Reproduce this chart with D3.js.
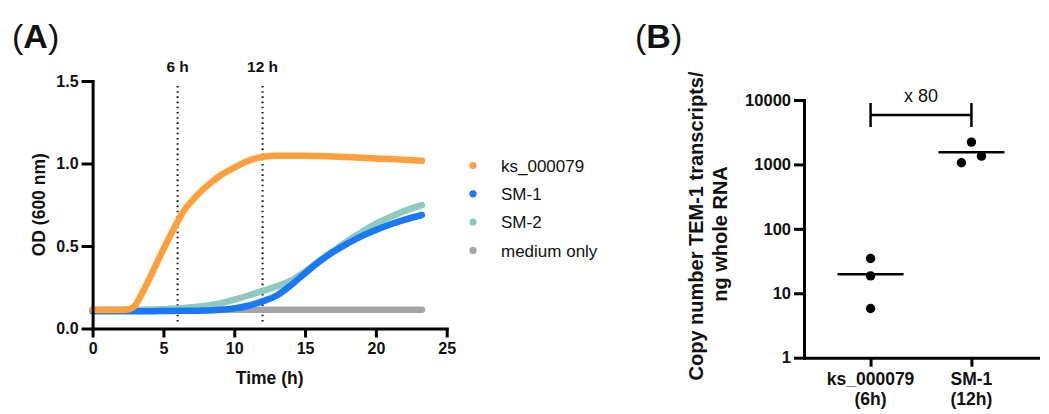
<!DOCTYPE html>
<html>
<head>
<meta charset="utf-8">
<script src="https://cdn.jsdelivr.net/npm/d3@7"></script>
<style>
    body { margin: 0; background: #fff; }
    text { font-family: "Liberation Sans", Arial, Helvetica, sans-serif; fill: #111; }
</style>
</head>
<body>
<div id="chart"></div>
<script>
// ---------- panel A : growth curves ----------
const times = [0, 1, 2, 2.5, 3, 3.5, 4, 4.5, 5, 5.5, 6, 6.5, 7, 7.5, 8, 8.5, 9, 10, 11, 12,
    13, 14, 15, 16, 17, 18, 19, 20, 21, 22, 23.25];
const odKs000079 = [0.112, 0.112, 0.112, 0.115, 0.14, 0.215, 0.30, 0.39, 0.48, 0.565, 0.648, 0.72,
    0.772, 0.818, 0.858, 0.894, 0.926, 0.975, 1.017, 1.04, 1.047, 1.047, 1.047, 1.045, 1.043, 1.04,
    1.035, 1.03, 1.027, 1.023, 1.017];
const odSM1 = [0.105, 0.105, 0.105, 0.105, 0.105, 0.105, 0.105, 0.105, 0.106, 0.106, 0.107, 0.107,
    0.108, 0.108, 0.109, 0.11, 0.113, 0.122, 0.138, 0.165, 0.2, 0.262, 0.335, 0.405, 0.465, 0.515,
    0.56, 0.597, 0.63, 0.658, 0.688];
const odSM2 = [0.11, 0.11, 0.11, 0.11, 0.11, 0.111, 0.112, 0.114, 0.116, 0.119, 0.122, 0.125,
    0.129, 0.133, 0.138, 0.145, 0.152, 0.175, 0.2, 0.228, 0.255, 0.29, 0.345, 0.41, 0.47, 0.53,
    0.585, 0.635, 0.675, 0.712, 0.748];
const odMedium = [0.113, 0.113, 0.113, 0.113, 0.113, 0.113, 0.113, 0.113, 0.113, 0.113, 0.113, 0.113,
    0.113, 0.113, 0.113, 0.113, 0.113, 0.113, 0.113, 0.113, 0.113, 0.113, 0.113, 0.113, 0.113, 0.113,
    0.113, 0.113, 0.113, 0.113, 0.113];
const seriesNames = ["ks_000079", "SM-1", "SM-2", "medium only"];
const seriesColors = ["#ffa03c", "#1878f6", "#8ecabd", "#a6a3a9"];
const sampleTimes = [6, 12];
const timeTicks = [0, 5, 10, 15, 20, 25];
const odTicks = [0, 0.5, 1.0, 1.5];

// ---------- panel B : TEM-1 transcripts ----------
const strains = ["ks_000079", "SM-1"];
const strainTimes = ["(6h)", "(12h)"];
const copyNumbers = [[34.6, 18.6, 5.8], [1062, 2220, 1345]];
const copyTicks = [1, 10, 100, 1000, 10000];
const foldLabel = "x 80";
const yTitleB = ["Copy number TEM-1 transcripts/", "ng whole RNA"];

const W = 1049, H = 414;

let svg = d3.select("#chart").append("svg")
    .attr("width", W)
    .attr("height", H);

//thick black axes like the prism style
function styleAxis(g, fontSize) {
    g.select(".domain").attr("stroke", "#000").attr("stroke-width", 3)
        .attr("stroke-linecap", "square");
    g.selectAll(".tick line").attr("stroke", "#000").attr("stroke-width", 3);
    g.selectAll(".tick text")
        .style("font-size", fontSize + "px")
        .style("font-weight", "bold")
        .attr("fill", "#111");
}

function panelLabel(x, y, letter) {
    let t = svg.append("text")
        .attr("x", x)
        .attr("y", y)
        .style("font-size", "34px");
    t.append("tspan").text("(");
    t.append("tspan").text(letter).style("font-weight", "bold");
    t.append("tspan").text(")");
}

//////////////// panel A ////////////////
let xA = d3.scaleLinear().domain([0, 25]).range([92.6, 446.7]);
let yA = d3.scaleLinear().domain([0, 1.5]).range([328.5, 81]);

panelLabel(12, 48, "A");

//sampling time marks
svg.selectAll(".sampleLine")
    .data(sampleTimes)
    .enter()
    .append("line")
    .attr("class", "sampleLine")
    .attr("x1", d => xA(d))
    .attr("x2", d => xA(d))
    .attr("y1", yA(1.47))
    .attr("y2", yA(0) - 6)
    .attr("stroke", "#111")
    .attr("stroke-width", 2)
    .attr("stroke-dasharray", "1.6,3.6");

svg.selectAll(".sampleLabel")
    .data(sampleTimes)
    .enter()
    .append("text")
    .attr("class", "sampleLabel")
    .attr("x", d => xA(d))
    .attr("y", 72)
    .attr("text-anchor", "middle")
    .style("font-size", "15.5px")
    .style("font-weight", "bold")
    .text(d => d + " h");

//curves, drawn bottom to top
let seriesData = [odKs000079, odSM1, odSM2, odMedium];
let line = d3.line()
    .x((d, i) => xA(times[i]))
    .y(d => yA(d))
    .curve(d3.curveMonotoneX);

[3, 2, 1, 0].forEach(k => {
    svg.append("path")
        .datum(seriesData[k])
        .attr("d", line)
        .attr("fill", "none")
        .attr("stroke", seriesColors[k])
        .attr("stroke-width", 6.5)
        .attr("stroke-linecap", "round")
        .attr("stroke-linejoin", "round");
});

let axA_x = svg.append("g")
    .attr("transform", "translate(0," + yA(0) + ")")
    .call(d3.axisBottom(xA).tickValues(timeTicks).tickSize(9).tickSizeOuter(0).tickPadding(5));
styleAxis(axA_x, 16);

let axA_y = svg.append("g")
    .attr("transform", "translate(" + xA(0) + ",0)")
    .call(d3.axisLeft(yA).tickValues(odTicks).tickFormat(d3.format(".1f")).tickSize(11)
        .tickSizeOuter(0).tickPadding(3));
styleAxis(axA_y, 16);

svg.append("text")
    .attr("x", (xA(0) + xA(25)) / 2)
    .attr("y", 384)
    .attr("text-anchor", "middle")
    .style("font-size", "17.5px")
    .style("font-weight", "bold")
    .text("Time (h)");

svg.append("text")
    .attr("transform", "translate(45," + (yA(0) + yA(1.5)) / 2 + ") rotate(-90)")
    .attr("text-anchor", "middle")
    .style("font-size", "17.5px")
    .style("font-weight", "bold")
    .text("OD (600 nm)");

//legend
let legend = svg.selectAll(".legendRow")
    .data(seriesNames)
    .enter()
    .append("g")
    .attr("class", "legendRow")
    .attr("transform", (d, i) => "translate(473," + (165.5 + i * 28.3) + ")");

legend.append("circle")
    .attr("r", 3.6)
    .attr("fill", (d, i) => seriesColors[i]);

legend.append("text")
    .attr("x", 28)
    .attr("dy", "0.36em")
    .style("font-size", "17px")
    .text(d => d);

//////////////// panel B ////////////////
let xB = d3.scalePoint().domain(strains).range([804, 1038]).padding(0.66);
let yB = d3.scaleLog().domain([1, 10000]).range([357.7, 100]);

panelLabel(635, 48, "B");

let axB_y = svg.append("g")
    .attr("transform", "translate(804,0)")
    .call(d3.axisLeft(yB).tickValues(copyTicks).tickFormat(d3.format("d")).tickSize(10)
        .tickSizeOuter(0).tickPadding(3));
styleAxis(axB_y, 16.5);

let axB_x = svg.append("g")
    .attr("transform", "translate(0," + yB(1) + ")")
    .call(d3.axisBottom(xB).tickSize(9).tickSizeOuter(0));
styleAxis(axB_x, 17);
axB_x.selectAll(".tick text").remove();

//two-line category labels
let catLabels = svg.selectAll(".catLabel")
    .data(strains)
    .enter()
    .append("text")
    .attr("class", "catLabel")
    .attr("text-anchor", "middle")
    .style("font-size", "17.5px")
    .style("font-weight", "bold");
catLabels.append("tspan")
    .attr("x", d => xB(d))
    .attr("y", 385)
    .text(d => d);
catLabels.append("tspan")
    .attr("x", d => xB(d))
    .attr("y", 405)
    .text((d, i) => strainTimes[i]);

//y title, two rotated lines
svg.selectAll(".yTitleB")
    .data(yTitleB)
    .enter()
    .append("text")
    .attr("class", "yTitleB")
    .attr("transform", (d, i) => "translate(" + (703 + i * 24) + "," + (226 + i * 8) + ") rotate(-90)")
    .attr("text-anchor", "middle")
    .style("font-size", "20px")
    .style("font-weight", "bold")
    .text(d => d);

//points with a small horizontal dodge where they would overlap
let r = 4.7;
copyNumbers.forEach((vals, gi) => {
    let cx = xB(strains[gi]);
    let ys = vals.map(v => yB(v));
    let crowded = false;
    for (let a = 0; a < ys.length; a++)
        for (let b = a + 1; b < ys.length; b++)
            if (Math.abs(ys[a] - ys[b]) < 2 * r + 2) crowded = true;

    svg.selectAll(".pt" + gi)
        .data(vals)
        .enter()
        .append("circle")
        .attr("class", "pt" + gi)
        .attr("cx", (d, i) => crowded ? cx + (i - (vals.length - 1) / 2) * 10 : cx)
        .attr("cy", d => yB(d))
        .attr("r", r)
        .attr("fill", "#000");

    //mean line
    let m = d3.mean(vals);
    svg.append("line")
        .attr("x1", cx - 33)
        .attr("x2", cx + 33)
        .attr("y1", yB(m))
        .attr("y2", yB(m))
        .attr("stroke", "#000")
        .attr("stroke-width", 2.5);
});

//fold change bracket
let bx1 = xB(strains[0]), bx2 = xB(strains[1]);
let bracket = svg.append("g");
bracket.append("line")
    .attr("x1", bx1).attr("x2", bx2)
    .attr("y1", 115).attr("y2", 115)
    .attr("stroke", "#000").attr("stroke-width", 2.5);
[bx1, bx2].forEach(x => {
    bracket.append("line")
        .attr("x1", x).attr("x2", x)
        .attr("y1", 103).attr("y2", 127)
        .attr("stroke", "#000").attr("stroke-width", 2.5);
});
bracket.append("text")
    .attr("x", (bx1 + bx2) / 2)
    .attr("y", 102)
    .attr("text-anchor", "middle")
    .style("font-size", "18px")
    .text(foldLabel);
</script>
</body>
</html>
